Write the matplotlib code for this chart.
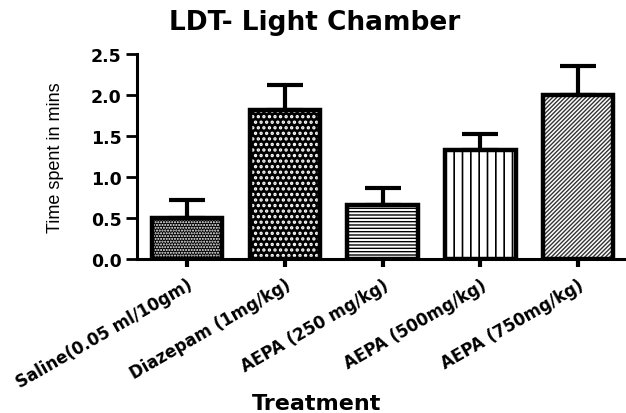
import matplotlib
matplotlib.use("Agg")
import matplotlib.pyplot as plt
import numpy as np

plt.rcParams['font.family'] = ['DejaVu Sans']

treatments = ["Saline(0.05 ml/10gm)", "Diazepam (1mg/kg)", "AEPA (250 mg/kg)",
              "AEPA (500mg/kg)", "AEPA (750mg/kg)"]
time_spent = [0.50, 1.82, 0.66, 1.33, 2.00]
sem = [0.22, 0.30, 0.20, 0.20, 0.36]
hatches = ["......", "...", "-----", "||", "////////"]
faces = ["black", "black", "white", "white", "white"]
hatch_colors = ["white", "white", "black", "black", "#333333"]
hatch_widths = [1.0, 1.6, 1.0, 1.2, 1.0]
y_ticks = [0.0, 0.5, 1.0, 1.5, 2.0, 2.5]

fig = plt.figure(figsize=(6.26, 4.14), dpi=100)
ax = fig.add_axes([0.219, 0.372, 0.781, 0.495])

x = np.arange(len(treatments))
width = 0.72

# hatched fill layer
for xi, v, h, fc, hc, hw in zip(x, time_spent, hatches, faces, hatch_colors, hatch_widths):
    plt.rcParams['hatch.linewidth'] = hw
    ax.bar(xi, v, width=width, color=fc, edgecolor=hc, hatch=h, linewidth=0, zorder=2)

# outline layer with upper error bars
ax.bar(x, time_spent, width=width, fill=False, edgecolor="black", linewidth=3.2, zorder=3)
ax.errorbar(x, time_spent, yerr=[np.zeros(len(sem)), sem], fmt="none", ecolor="black",
            elinewidth=3.0, capsize=13, capthick=3.0, zorder=1)

ax.set_xlim(-0.51, 4.49)
ax.set_ylim(0, 2.5)
ax.set_yticks(y_ticks)
ax.set_yticklabels([f"{t:.1f}" for t in y_ticks], fontweight="bold", fontsize=12.5)
ax.set_xticks(x)
ax.set_xticklabels(treatments, rotation=30, ha="right", rotation_mode="anchor",
                   fontweight="bold", fontsize=12)

for s in ["top", "right"]:
    ax.spines[s].set_visible(False)
for s in ["left", "bottom"]:
    ax.spines[s].set_linewidth(2.2)
ax.tick_params(axis="y", direction="out", length=8, width=2, pad=3)
ax.tick_params(axis="x", direction="out", length=6, width=3, pad=6)

ax.set_ylabel("Time spent in mins", fontsize=13, family=["Liberation Sans", "DejaVu Sans"])
ax.yaxis.set_label_coords(-0.149, 0.5)
fig.text(0.502, 0.945, "LDT- Light Chamber", ha="center", va="center",
         fontsize=19, fontweight="bold")
fig.text(0.505, 0.024, "Treatment", ha="center", va="center",
         fontsize=16, fontweight="bold")

fig.savefig("out.png", dpi=100)
